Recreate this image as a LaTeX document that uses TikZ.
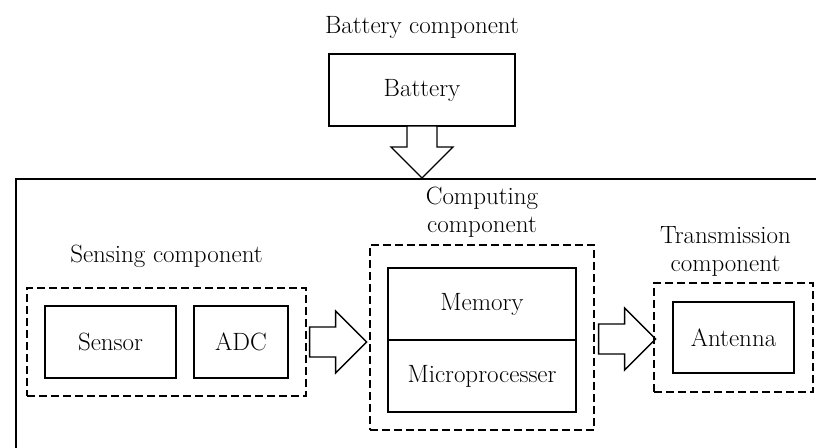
\documentclass[tikz,border=0pt]{standalone}
\usepackage{tikz}
\usetikzlibrary{positioning,fit}
\tikzset{
  block/.style={rectangle, draw=black, line width=1.6pt, outer sep=0pt,
                align=center, minimum height=72pt},
  dashgroup/.style={rectangle, draw=black, line width=1.1pt,
                dash pattern=on 8pt off 4pt, inner sep=18pt},
  caption/.style={inner sep=0pt, align=center},
  pics/fatarrow/.style={code={
    \draw[line width=1.4pt, fill=white]
      (0,-15) -- ({#1-31},-15) -- ({#1-31},-31) -- (#1,0)
      -- ({#1-31},31) -- ({#1-31},15) -- (0,15) -- cycle;
  }},
}
\begin{document}
\begin{tikzpicture}[x=1pt, y=-1pt, font=\fontsize{25}{28}\selectfont]
\useasboundingbox (0,0) rectangle (816,447);
% battery
\node[block, minimum width=186pt] (bat) at (422,90) {Battery};
\node[caption, above=15pt of bat] (batlbl) {Battery component};
% system frame
\draw[line width=1.2pt] (16,179) rectangle (860,480);
\path (bat.south) pic[rotate=-90] {fatarrow=52};
% sensing
\node[block, minimum width=131pt] (sensor) at (110.5,342) {Sensor};
\node[block, minimum width=94pt, right=18pt of sensor] (adc) {ADC};
\node[dashgroup, fit=(sensor)(adc)] (sensgrp) {};
\node[caption, above=20pt of sensgrp] (senslbl) {Sensing component};
\path (sensgrp.east) ++(3,0) pic {fatarrow=57};
% computing
\node[block, minimum width=188pt] (mem) at (482,304) {Memory};
\node[block, minimum width=188pt, below=0pt of mem] (micro) {Microprocesser};
\node[dashgroup, inner ysep=20.5pt, yshift=2.5pt, fit=(mem)(micro)] (compgrp) {};
\node[caption, above=7pt of compgrp] (complbl) {Computing\\component};
\path (compgrp.east) ++(4,1.5) pic {fatarrow=57};
% transmission
\node[block, minimum width=121pt, minimum height=71pt] (ant) at (733.5,337.5) {Antenna};
\node[dashgroup, inner sep=19pt, fit=(ant)] (trangrp) {};
\node[caption, above=6pt of trangrp, xshift=-8pt] (tranlbl) {Transmission\\component};
\end{tikzpicture}
\end{document}
